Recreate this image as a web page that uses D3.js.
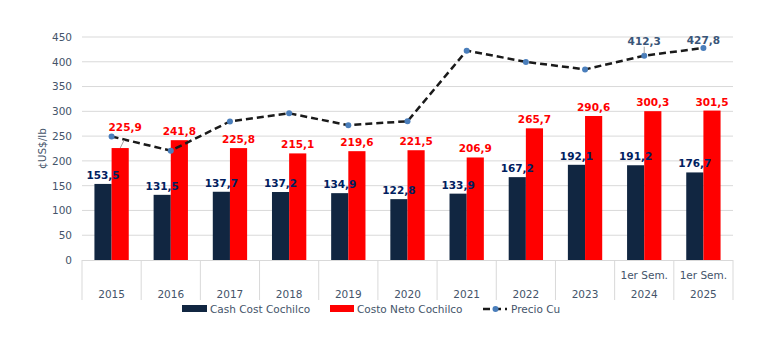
<!DOCTYPE html>
<html><head><meta charset="utf-8">
<script src="https://cdn.jsdelivr.net/npm/d3@7"></script>
<style>body{margin:0;background:#fff}svg{display:block}text{font-family:"DejaVu Sans",Verdana,sans-serif}</style>
</head><body><svg id="c" width="774" height="356"></svg>
<script>
const years = ["2015","2016","2017","2018","2019","2020","2021","2022","2023","2024","2025"];
const topLabels = ["","","","","","","","","","1er Sem.","1er Sem."];
const cashCost = [153.5,131.5,137.7,137.2,134.9,122.8,133.9,167.2,192.1,191.2,176.7];
const costoNeto = [225.9,241.8,225.8,215.1,219.6,221.5,206.9,265.7,290.6,300.3,301.5];
const precioCu = [249.2,220.6,279.7,296.0,272.0,280.0,422.5,399.8,384.6,412.3,427.8];
const cuLabelShown = [false,false,false,false,false,false,false,false,false,true,true];
const yTicks = [0,50,100,150,200,250,300,350,400,450];
const seriesNames = ["Cash Cost Cochilco","Costo Neto Cochilco","Precio Cu"];

const fmt = v => v.toFixed(1).replace(".", ",");
const svg = d3.select("#c");
const L = 82, R = 733, T = 37, B = 260;
const x = d3.scaleBand().domain(years).range([L, R]).padding(0);
const y = d3.scaleLinear().domain([0, 450]).range([B, T]);
const bw = x.bandwidth();
const barW = bw * 0.29;
const cx = d => x(d) + bw / 2;

const axisCol = "#44546A";
// gridlines
svg.append("g").selectAll("line").data(yTicks.slice(1)).join("line")
  .attr("x1", L).attr("x2", R).attr("y1", d => y(d)).attr("y2", d => y(d))
  .attr("stroke", "#d9d9d9").attr("stroke-width", 1);
// y axis labels
const ya = svg.append("g").attr("transform", `translate(${L},0)`)
  .call(d3.axisLeft(y).tickValues(yTicks).tickSize(0).tickPadding(10));
ya.select(".domain").remove();
ya.selectAll("text").attr("fill", axisCol).style("font-size", "10.5px").style("font-family", '"DejaVu Sans",Verdana,sans-serif');

// y title
svg.append("text").attr("transform", `translate(46,${(T + B) / 2}) rotate(-90)`)
  .attr("text-anchor", "middle").attr("fill", axisCol).style("font-size", "10.5px").text("¢US$/lb");

// bars
svg.append("g").selectAll("rect").data(years).join("rect")
  .attr("x", (d) => cx(d) - barW).attr("width", barW)
  .attr("y", (d, i) => y(cashCost[i])).attr("height", (d, i) => B - y(cashCost[i]))
  .attr("fill", "#112641");
svg.append("g").selectAll("rect").data(years).join("rect")
  .attr("x", (d) => cx(d)).attr("width", barW)
  .attr("y", (d, i) => y(costoNeto[i])).attr("height", (d, i) => B - y(costoNeto[i]))
  .attr("fill", "#FF0000");

// x axis baseline + separators
svg.append("line").attr("x1", L).attr("x2", R).attr("y1", B + 0.5).attr("y2", B + 0.5).attr("stroke", "#d9d9d9");
const seps = years.map(d => x(d)).concat([R]);
svg.append("g").selectAll("line").data(seps).join("line")
  .attr("x1", d => d).attr("x2", d => d).attr("y1", B).attr("y2", 300)
  .attr("stroke", "#d9d9d9");
const xl = svg.append("g");
xl.selectAll("text.yr").data(years).join("text").attr("class", "yr")
  .attr("x", d => cx(d)).attr("y", 298).attr("text-anchor", "middle")
  .attr("fill", axisCol).style("font-size", "10.5px").text(d => d);
xl.selectAll("text.top").data(years).join("text").attr("class", "top")
  .attr("x", d => cx(d)).attr("y", 279).attr("text-anchor", "middle")
  .attr("fill", axisCol).style("font-size", "10.5px").text((d, i) => topLabels[i]);

// line
const line = d3.line().x((d, i) => cx(years[i])).y(d => y(d));
svg.append("path").datum(precioCu).attr("d", line).attr("fill", "none")
  .attr("stroke", "#1a1a1a").attr("stroke-width", 2.5).attr("stroke-dasharray", "7,4");
svg.append("g").selectAll("circle").data(precioCu).join("circle")
  .attr("cx", (d, i) => cx(years[i])).attr("cy", d => y(d)).attr("r", 3).attr("fill", "#4A7EBB");

// labels
const lab = svg.append("g").style("font-size", "10.5px").style("font-weight", "bold");
// leader lines
svg.append("line").attr("x1", cx("2015") + barW / 2).attr("y1", y(costoNeto[0]))
  .attr("x2", cx("2015") + barW / 2 + 4).attr("y2", y(costoNeto[0]) - 8).attr("stroke", "#a6a6a6");
svg.append("line").attr("x1", cx("2024")).attr("y1", y(precioCu[9]) - 2)
  .attr("x2", cx("2024")).attr("y2", y(precioCu[9]) - 9).attr("stroke", "#a6a6a6");

lab.selectAll("text.cc").data(cashCost).join("text").attr("class", "cc")
  .attr("x", (d, i) => cx(years[i]) - barW / 2).attr("y", d => y(d) - 5)
  .attr("text-anchor", "middle").attr("fill", "#002060").text(fmt);
lab.selectAll("text.cn").data(costoNeto).join("text").attr("class", "cn")
  .attr("x", (d, i) => cx(years[i]) + barW / 2 + (i === 0 ? 5 : 0))
  .attr("y", (d, i) => y(d) - (i === 0 ? 17 : 5))
  .attr("text-anchor", "middle").attr("fill", "#FF0000").text(fmt);
lab.selectAll("text.cu").data(precioCu.map((v, i) => ({v, i})).filter(o => cuLabelShown[o.i])).join("text").attr("class", "cu")
  .attr("x", o => cx(years[o.i]))
  .attr("y", o => o.i === 9 ? y(o.v) - 11 : y(o.v) - 4)
  .attr("text-anchor", "middle").attr("fill", "#3A5578").text(o => fmt(o.v));

// legend
const lg = svg.append("g").style("font-size", "10.5px");
lg.append("rect").attr("x", 182).attr("y", 305).attr("width", 25).attr("height", 7).attr("fill", "#112641");
lg.append("text").attr("x", 210).attr("y", 313).attr("fill", axisCol).text(seriesNames[0]);
lg.append("rect").attr("x", 330).attr("y", 305).attr("width", 24).attr("height", 7).attr("fill", "#FF0000");
lg.append("text").attr("x", 357).attr("y", 313).attr("fill", axisCol).text(seriesNames[1]);
lg.append("line").attr("x1", 483).attr("x2", 507).attr("y1", 309).attr("y2", 309)
  .attr("stroke", "#1a1a1a").attr("stroke-width", 2.5).attr("stroke-dasharray", "7,4");
lg.append("circle").attr("cx", 495.5).attr("cy", 309).attr("r", 3).attr("fill", "#4A7EBB");
lg.append("text").attr("x", 511).attr("y", 313).attr("fill", axisCol).text(seriesNames[2]);
</script></body></html>
